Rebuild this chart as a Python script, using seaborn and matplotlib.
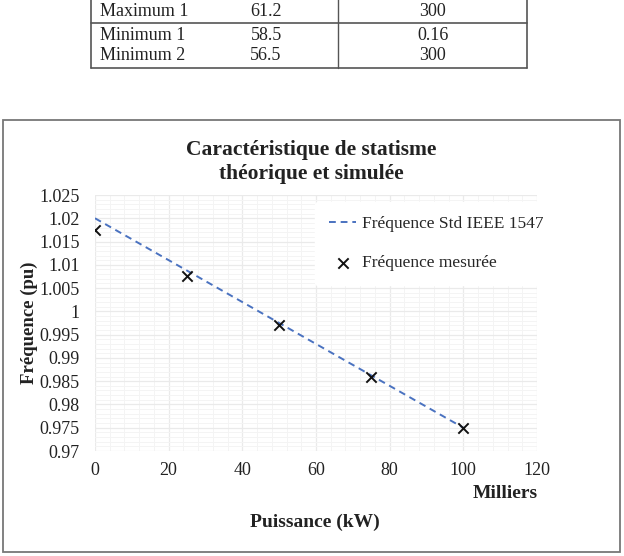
import matplotlib
matplotlib.use('Agg')
import matplotlib.pyplot as plt
import seaborn as sns
import pandas as pd
from matplotlib.patches import Rectangle
from matplotlib.lines import Line2D
from matplotlib.ticker import MultipleLocator, FuncFormatter

# table rows at the top of the page
row_names = ['Maximum 1', 'Minimum 1', 'Minimum 2']
row_freq = ['61.2', '58.5', '56.5']
row_time = ['300', '0.16', '300']

# chart data (puissance in milliers of kW)
p_std = [0, 100]
f_std = [1.02, 0.975]
p_mes = [0, 25, 50, 75, 100]
f_mes = [1.0175, 1.0075, 0.997, 0.986, 0.975]

sns.set_theme(style='white')
plt.rcParams['font.family'] = ['Liberation Serif', 'DejaVu Serif']

W, H = 624, 556
fig = plt.figure(figsize=(W / 100, H / 100), dpi=100)

def fx(px):
    return px / W

def fy(py):
    return 1 - py / H

# ---- table ----
tc = '#555555'
fig.add_artist(Line2D([fx(91), fx(91)], [fy(-2), fy(68)], color=tc, lw=1.2))
fig.add_artist(Line2D([fx(527), fx(527)], [fy(-2), fy(68)], color=tc, lw=1.2))
fig.add_artist(Line2D([fx(338), fx(338)], [fy(-2), fy(68)], color=tc, lw=1))
fig.add_artist(Line2D([fx(91), fx(527)], [fy(23), fy(23)], color=tc, lw=1.2))
fig.add_artist(Line2D([fx(91), fx(527)], [fy(68), fy(68)], color=tc, lw=1.2))
row_y = [12, 35, 56]
for name, fr, tm, y in zip(row_names, row_freq, row_time, row_y):
    fig.text(fx(100), fy(y), name, fontsize=13, ha='left', va='center', color='#222222')
    fig.text(fx(266), fy(y), fr, fontsize=13, ha='center', va='center', color='#222222')
    fig.text(fx(433), fy(y), tm, fontsize=13, ha='center', va='center', color='#222222')

# ---- chart frame ----
fig.add_artist(Rectangle((fx(3), fy(552)), fx(617) - fx(0), fy(120) - fy(552),
                         transform=fig.transFigure, fill=False, ec='#777777', lw=1.3))

ax = fig.add_axes([fx(95), fy(451), fx(537) - fx(95), fy(195) - fy(451)])

df_std = pd.DataFrame({'p': p_std, 'f': f_std})
df_mes = pd.DataFrame({'p': p_mes, 'f': f_mes})
sns.lineplot(data=df_std, x='p', y='f', ax=ax, color='#4a72c0', lw=1.4,
             linestyle=(0, (3.5, 2.5)), label='Fréquence Std IEEE 1547')
sns.scatterplot(data=df_mes, x='p', y='f', ax=ax, marker='x', color='#111111',
                s=55, linewidth=1.4, label='Fréquence mesurée', zorder=3)

ax.set_xlim(0, 120)
ax.set_ylim(0.97, 1.025)
ax.xaxis.set_major_locator(MultipleLocator(20))
ax.xaxis.set_minor_locator(MultipleLocator(4))
ax.yaxis.set_major_locator(MultipleLocator(0.005))
ax.yaxis.set_minor_locator(MultipleLocator(0.001))
ax.yaxis.set_major_formatter(FuncFormatter(lambda v, _: f'{v:.3f}'.rstrip('0').rstrip('.')))
ax.grid(which='major', color='#eaeaea', lw=0.9)
ax.grid(which='minor', color='#f4f4f4', lw=0.7)
ax.set_axisbelow(True)
for s in ax.spines.values():
    s.set_visible(False)
ax.tick_params(axis='y', which='both', length=0, labelsize=13, colors='#222222', pad=11)
ax.tick_params(axis='x', which='both', length=0, labelsize=13, colors='#222222', pad=8)
ax.set_xlabel('')
ax.set_ylabel('Fréquence (pu)', fontsize=13.5, fontweight='bold', color='#222222', labelpad=1)

leg = ax.legend(loc='upper right', bbox_to_anchor=(1.065, 1.008), frameon=True, fontsize=12.5,
                handlelength=1.6, handletextpad=0.3, labelspacing=1.35, borderpad=0.8)
leg.get_frame().set_facecolor('white')
leg.get_frame().set_edgecolor('white')
leg.get_frame().set_alpha(1)

fig.text(fx(505), fy(493), 'Milliers', fontsize=14, fontweight='bold', ha='center', va='center', color='#222222')
fig.text(fx(315), fy(522), 'Puissance (kW)', fontsize=14, fontweight='bold', ha='center', va='center', color='#222222')
fig.text(fx(311), fy(150), 'Caractéristique de statisme', fontsize=15.5, fontweight='bold', ha='center', va='center', color='#222222')
fig.text(fx(311), fy(174), 'théorique et simulée', fontsize=15.5, fontweight='bold', ha='center', va='center', color='#222222')

fig.savefig('out.png', dpi=100)
